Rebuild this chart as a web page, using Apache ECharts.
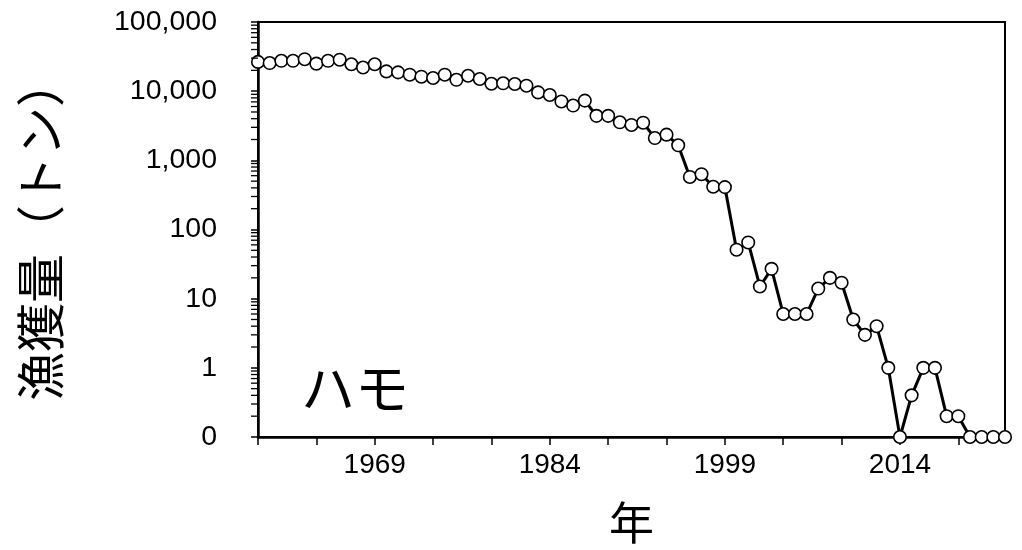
<!DOCTYPE html>
<html>
<head>
<meta charset="utf-8">
<script src="https://cdn.jsdelivr.net/npm/echarts@6/dist/echarts.min.js"></script>
<style>
html,body{margin:0;padding:0;background:#fff;}
#chart{width:1022px;height:550px;}
</style>
</head>
<body>
<div id="chart"></div>
<script>
// ---- data ----
const years = [
  '1959','1960','1961','1962','1963','1964','1965','1966','1967','1968',
  '1969','1970','1971','1972','1973','1974','1975','1976','1977','1978',
  '1979','1980','1981','1982','1983','1984','1985','1986','1987','1988',
  '1989','1990','1991','1992','1993','1994','1995','1996','1997','1998',
  '1999','2000','2001','2002','2003','2004','2005','2006','2007','2008',
  '2009','2010','2011','2012','2013','2014','2015','2016','2017','2018',
  '2019','2020','2021','2022','2023'
];
const catchTons = [
  26500, 25500, 27500, 27500, 29000, 25000, 27500, 28500, 24500, 22000,
  24500, 19300, 18700, 17300, 16200, 15500, 17300, 14600, 16700, 15000,
  12800, 13000, 12700, 12000, 9600, 8800, 7100, 6200, 7300, 4400,
  4400, 3550, 3250, 3500, 2100, 2350, 1650, 575, 630, 415,
  410, 51, 65, 15, 27, 6, 6, 6, 14, 20,
  17, 5, 3, 4, 1, 0, 0.4, 1, 1, 0.2,
  0.2, 0, 0, 0, 0
];
const yTickLabels = {'0.1':'0','1':'1','10':'10','100':'100','1000':'1,000','10000':'10,000','100000':'100,000'};
const xLabelYears = ['1969','1984','1999','2014'];
const speciesName = 'ハモ';
const yAxisTitle = '漁獲量（トン）';
const xAxisTitle = '年';

// ---- chart ----
const AXIS_MIN = 0.1, AXIS_MAX = 100000;
// zero catches sit on the bottom of the log axis (labelled "0")
const plotValues = catchTons.map(v => v === 0 ? AXIS_MIN : v);

// log minor tick positions (2..9 within each decade)
const minorTicks = [];
for (let d = AXIS_MIN; d < AXIS_MAX; d *= 10) {
  for (let m = 2; m <= 9; m++) minorTicks.push([0, +(d * m).toPrecision(3)]);
}

const numFont = 'Liberation Sans, Arial, sans-serif';
const cjkFont = 'Noto Sans CJK JP, sans-serif';

const chart = echarts.init(document.getElementById('chart'), null, {renderer: 'canvas'});
chart.setOption({
  animation: false,
  backgroundColor: '#fff',
  grid: {left: 258, right: 17, top: 22, bottom: 112, containLabel: false,
         show: true, borderColor: '#000', borderWidth: 2, backgroundColor: 'transparent'},
  title: {
    text: speciesName, left: 296, top: 356,
    textStyle: {fontFamily: cjkFont, fontSize: 54, fontWeight: 'normal', color: '#000'}
  },
  xAxis: {
    type: 'category',
    data: years,
    boundaryGap: false,
    name: xAxisTitle,
    nameLocation: 'middle',
    nameGap: 63,
    nameTextStyle: {fontFamily: cjkFont, fontSize: 45, color: '#000'},
    axisLine: {lineStyle: {color: '#000', width: 2.5}},
    axisTick: {show: true, inside: false, length: 8, lineStyle: {color: '#000', width: 1.5},
               interval: (i) => i % 5 === 0},
    axisLabel: {
      interval: (i, v) => xLabelYears.indexOf(v) >= 0,
      fontFamily: numFont, fontSize: 28, color: '#000', margin: 14
    },
    splitLine: {show: false}
  },
  yAxis: {
    type: 'log',
    logBase: 10,
    min: AXIS_MIN,
    max: AXIS_MAX,
    splitNumber: 5,
    name: yAxisTitle,
    nameLocation: 'middle',
    nameGap: 193,
    nameTextStyle: {fontFamily: cjkFont, fontSize: 49, color: '#000'},
    axisLine: {show: true, lineStyle: {color: '#000', width: 2.5}},
    axisTick: {show: true, inside: false, length: 7, lineStyle: {color: '#000', width: 1.5}},
    axisLabel: {
      fontFamily: numFont, fontSize: 28.5, color: '#000', margin: 41,
      formatter: (v) => {
        const k = String(+v.toPrecision(6));
        return yTickLabels[k] !== undefined ? yTickLabels[k] : '';
      }
    },
    splitLine: {show: false}
  },
  series: [
    {
      type: 'line',
      data: plotValues,
      symbol: 'circle',
      symbolSize: 12.5,
      showAllSymbol: true,
      lineStyle: {color: '#000', width: 3},
      itemStyle: {color: '#fff', borderColor: '#000', borderWidth: 1.6},
      clip: false,
      z: 3
    },
    {
      type: 'custom',
      data: minorTicks,
      clip: false,
      silent: true,
      z: 4,
      renderItem: (params, api) => {
        const p = api.coord([api.value(0), api.value(1)]);
        const x0 = params.coordSys.x;
        return {
          type: 'line',
          shape: {x1: x0 - 7, y1: p[1], x2: x0, y2: p[1]},
          style: {stroke: '#000', lineWidth: 1.3}
        };
      }
    }
  ]
});
</script>
</body>
</html>
